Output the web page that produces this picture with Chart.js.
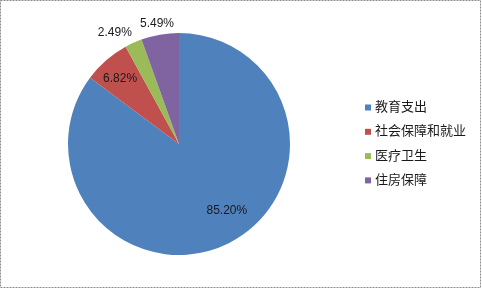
<!DOCTYPE html>
<html>
<head>
<meta charset="utf-8">
<script src="https://cdn.jsdelivr.net/npm/chart.js@4"></script>
<style>
  html, body { margin: 0; padding: 0; background: #fff; }
  #wrap { width: 482px; height: 289px; position: relative; }
</style>
</head>
<body>
<div id="wrap"><canvas id="pieChart" width="482" height="289"></canvas></div>
<script>
// chart data
var categories = ["教育支出", "社会保障和就业", "医疗卫生", "住房保障"];
var shares = [85.20, 6.82, 2.49, 5.49];
var pctLabels = ["85.20%", "6.82%", "2.49%", "5.49%"];
var sliceColors = ["#4F81BD", "#C0504D", "#9BBB59", "#8064A2"];

var FONT = "'Liberation Sans', 'Noto Sans CJK SC', sans-serif";

// dashed frame round the picture
var framePlugin = {
    id: "frame",
    afterDraw: function (chart) {
        var ctx = chart.ctx;
        ctx.save();
        ctx.strokeStyle = "#8a8a8a";
        ctx.lineWidth = 1;
        ctx.setLineDash([2, 1]);
        ctx.strokeRect(0.5, 0.5, 480, 287);
        ctx.restore();
    }
};

// percentage labels placed from the arcs themselves
var valueLabels = {
    id: "valueLabels",
    afterDatasetsDraw: function (chart) {
        var ctx = chart.ctx;
        var meta = chart.getDatasetMeta(0);
        // radial factor (>1 = outside) and angle nudge in degrees
        var factors = [0.74, 0.79, 1.155, 1.1];
        var nudges = [-9, -1.2, -5.8, -0.5];
        ctx.save();
        ctx.font = "12px " + FONT;
        ctx.fillStyle = "#1a1a1a";
        ctx.textAlign = "center";
        ctx.textBaseline = "middle";
        meta.data.forEach(function (arc, i) {
            var p = arc.getProps(["x", "y", "startAngle", "endAngle", "outerRadius"], true);
            var mid = (p.startAngle + p.endAngle) / 2 + nudges[i] * Math.PI / 180;
            var r = p.outerRadius * factors[i];
            ctx.fillText(pctLabels[i], p.x + Math.cos(mid) * r, p.y + Math.sin(mid) * r);
        });
        ctx.restore();
    }
};

// legend on the right
var sideLegend = {
    id: "sideLegend",
    afterDraw: function (chart) {
        var ctx = chart.ctx;
        var x = 365, y = 107.5, step = 24.3;
        ctx.save();
        ctx.font = "13px " + FONT;
        ctx.textBaseline = "middle";
        ctx.textAlign = "left";
        categories.forEach(function (name, i) {
            var yy = y + i * step;
            ctx.fillStyle = sliceColors[i];
            ctx.fillRect(x, yy - 3, 6, 6);
            ctx.fillStyle = "#1a1a1a";
            ctx.fillText(name, x + 10, yy);
        });
        ctx.restore();
    }
};

var ctx = document.getElementById("pieChart").getContext("2d");
var pieChart = new Chart(ctx, {
    type: "pie",
    data: {
        labels: categories,
        datasets: [{
            data: shares,
            backgroundColor: sliceColors,
            borderWidth: 0
        }]
    },
    options: {
        responsive: false,
        animation: false,
        layout: {
            padding: { left: 68, right: 192, top: 33, bottom: 34 }
        },
        plugins: {
            legend: { display: false },
            tooltip: { enabled: false }
        }
    },
    plugins: [valueLabels, sideLegend, framePlugin]
});
</script>
</body>
</html>
